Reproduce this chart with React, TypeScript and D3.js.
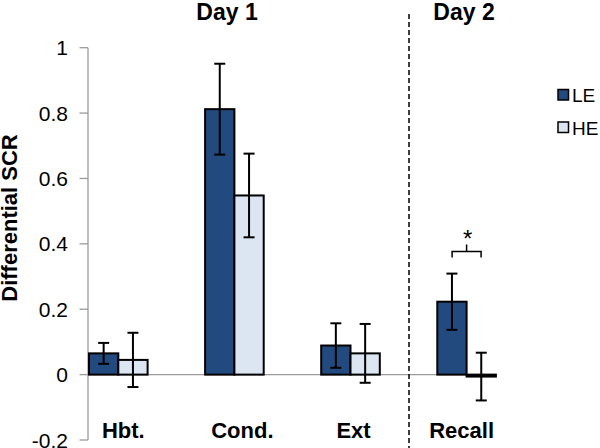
import React from "react";
import * as d3 from "d3";

const categories = ["Hbt.", "Cond.", "Ext", "Recall"];
const seriesNames = ["LE", "HE"];
const leValues = [0.065, 0.812, 0.089, 0.223];
const leErrors = [0.032, 0.139, 0.068, 0.086];
const heValues = [0.045, 0.548, 0.065, -0.006];
const heErrors = [0.083, 0.128, 0.09, 0.073];
const yTicks = [-0.2, 0, 0.2, 0.4, 0.6, 0.8, 1];
const dayLabels = ["Day 1", "Day 2"];

const W = 600;
const H = 448;
const FONT = "'Liberation Sans', Arial, sans-serif";
const colors = ["#234A7E", "#DCE6F3"];
const labelDx = [5, 8, 3, -5];

export default function App() {
  const y = d3.scaleLinear().domain([-0.2, 1]).range([440, 47.7]);
  const x = d3.scalePoint<string>().domain(categories).range([118.3, 466.6]);
  const barW = 29.3;
  const series = [
    { name: seriesNames[0], values: leValues, errors: leErrors },
    { name: seriesNames[1], values: heValues, errors: heErrors },
  ];
  const axisX = 88;
  const rightEdge = (x(categories[3]) as number) + barW;
  const recallX = x("Recall") as number;
  const bracketY = 251.5;
  const dividerX = 409;

  return (
    <svg
      width={W}
      height={H}
      style={{ position: "absolute", left: 0, top: 0, background: "#fff" }}
      fontFamily={FONT}
    >
      <rect width={W} height={H} fill="#fff" />
      <line x1={axisX} x2={axisX} y1={y(1)} y2={y(-0.2)} stroke="#9a9a9a" strokeWidth={1.3} />
      {yTicks.map((t) => (
        <g key={t}>
          <line x1={axisX - 8.5} x2={axisX} y1={y(t)} y2={y(t)} stroke="#9a9a9a" strokeWidth={1.3} />
          <text x={68} y={y(t)} dy="0.36em" textAnchor="end" fontSize={21} fill="#000">
            {t}
          </text>
        </g>
      ))}
      <line x1={axisX} x2={rightEdge} y1={y(0)} y2={y(0)} stroke="#9a9a9a" strokeWidth={1.3} />
      {categories.map((c, i) => {
        const cx = x(c) as number;
        return (
          <g key={c}>
            {series.map((s, j) => {
              const v = s.values[i];
              const bx = cx - barW + j * barW;
              const top = Math.min(y(v), y(0));
              const h = Math.abs(y(v) - y(0));
              return (
                <rect
                  key={s.name}
                  x={bx}
                  y={top}
                  width={barW}
                  height={h}
                  fill={colors[j]}
                  stroke="#000"
                  strokeWidth={2}
                />
              );
            })}
            {series.map((s, j) => {
              const v = s.values[i];
              const e = s.errors[i];
              const ex = cx - barW / 2 + j * barW;
              return (
                <g key={s.name + "e"} stroke="#000" strokeWidth={2}>
                  <line x1={ex} x2={ex} y1={y(v + e)} y2={y(v - e)} />
                  <line x1={ex - 5.5} x2={ex + 5.5} y1={y(v + e)} y2={y(v + e)} />
                  <line x1={ex - 5.5} x2={ex + 5.5} y1={y(v - e)} y2={y(v - e)} />
                </g>
              );
            })}
            <text x={cx + labelDx[i]} y={438} textAnchor="middle" fontSize={22} fontWeight="bold">
              {c}
            </text>
          </g>
        );
      })}
      <line
        x1={dividerX}
        x2={dividerX}
        y1={14}
        y2={H}
        stroke="#000"
        strokeWidth={1.5}
        strokeDasharray="5,3"
      />
      <path
        d={`M${recallX - 14.5},${bracketY + 6} V${bracketY} H${recallX + 14.5} V${bracketY + 6} M${recallX},${bracketY} V${bracketY - 7}`}
        fill="none"
        stroke="#000"
        strokeWidth={1.5}
      />
      <text x={recallX + 1} y={247} textAnchor="middle" fontSize={24}>
        *
      </text>
      <text x={227} y={19.5} textAnchor="middle" fontSize={23} fontWeight="bold">
        {dayLabels[0]}
      </text>
      <text x={464} y={19.5} textAnchor="middle" fontSize={23} fontWeight="bold">
        {dayLabels[1]}
      </text>
      <text transform={`translate(17,218) rotate(-90)`} textAnchor="middle" fontSize={22} fontWeight="bold">
        Differential SCR
      </text>
      {seriesNames.map((n, j) => (
        <g key={n}>
          <rect
            x={558}
            y={89.5 + j * 32.5}
            width={10.5}
            height={10.5}
            fill={colors[j]}
            stroke="#000"
            strokeWidth={1.5}
          />
          <text x={572} y={102} fontSize={19} transform={`translate(0,${j * 32.5})`}>
            {n}
          </text>
        </g>
      ))}
    </svg>
  );
}
